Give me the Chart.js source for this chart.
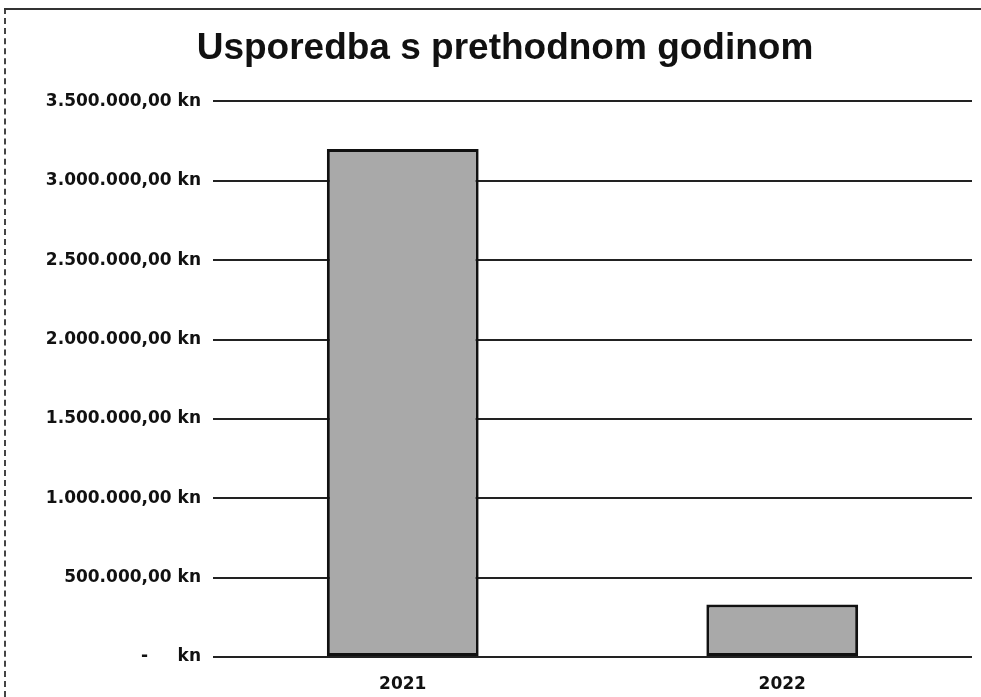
<!DOCTYPE html>
<html>
<head>
<meta charset="utf-8">
<script src="https://cdn.jsdelivr.net/npm/chart.js@4"></script>
<style>
  html, body { margin: 0; padding: 0; background: #fff; }
  #wrap { width: 981px; height: 697px; position: relative; box-sizing: border-box; }
  #wrap:before { content: ''; position: absolute; left: 4px; top: 8px; bottom: 0; border-left: 2px dashed #444; }
  #wrap:after { content: ''; position: absolute; left: 4px; right: 0; top: 8px; border-top: 2px solid #333; }
</style>
</head>
<body>
<div id="wrap"><canvas id="chart" width="981" height="697"></canvas></div>
<script>
const years = ['2021', '2022'];
const amounts = [3200000, 330000];
const yTicks = [0, 500000, 1000000, 1500000, 2000000, 2500000, 3000000, 3500000];

function formatKn(v) {
    if (v === 0) return '-     kn';
    const parts = v.toFixed(2).split('.');
    const whole = parts[0].replace(/\B(?=(\d{3})+(?!\d))/g, '.');
    return whole + ',' + parts[1] + ' kn';
}

const ctx = document.getElementById('chart').getContext('2d');
const chart = new Chart(ctx, {
    type: 'bar',
    data: {
        labels: years,
        datasets: [{
            data: amounts,
            backgroundColor: '#a9a9a9',
            borderColor: '#111',
            borderWidth: 3,
            borderSkipped: false,
            barPercentage: 0.4,
            categoryPercentage: 1
        }]
    },
    options: {
        responsive: false,
        animation: false,
        layout: { padding: { left: 38, right: 9, top: 0, bottom: 0 } },
        plugins: {
            legend: { display: false },
            tooltip: { enabled: false },
            title: {
                display: true,
                text: 'Usporedba s prethodnom godinom',
                color: '#111',
                font: { family: 'Liberation Sans', size: 37, weight: 'bold' },
                padding: { top: 27, bottom: 30 }
            }
        },
        scales: {
            x: {
                grid: { display: false },
                border: { display: false },
                ticks: {
                    color: '#111',
                    font: { family: 'DejaVu Sans', size: 17, weight: 'bold' },
                    padding: 9
                },
                afterFit: s => { s.height = 40; }
            },
            y: {
                min: 0,
                max: 3500000,
                afterBuildTicks: s => { s.ticks = yTicks.map(v => ({ value: v })); },
                grid: { color: '#222', lineWidth: 2, drawTicks: false },
                border: { display: false },
                ticks: {
                    color: '#111',
                    font: { family: 'DejaVu Sans', size: 17, weight: 'bold' },
                    padding: 12,
                    callback: v => formatKn(v)
                },
                afterFit: s => { s.width = 175; }
            }
        }
    }
});
</script>
</body>
</html>
